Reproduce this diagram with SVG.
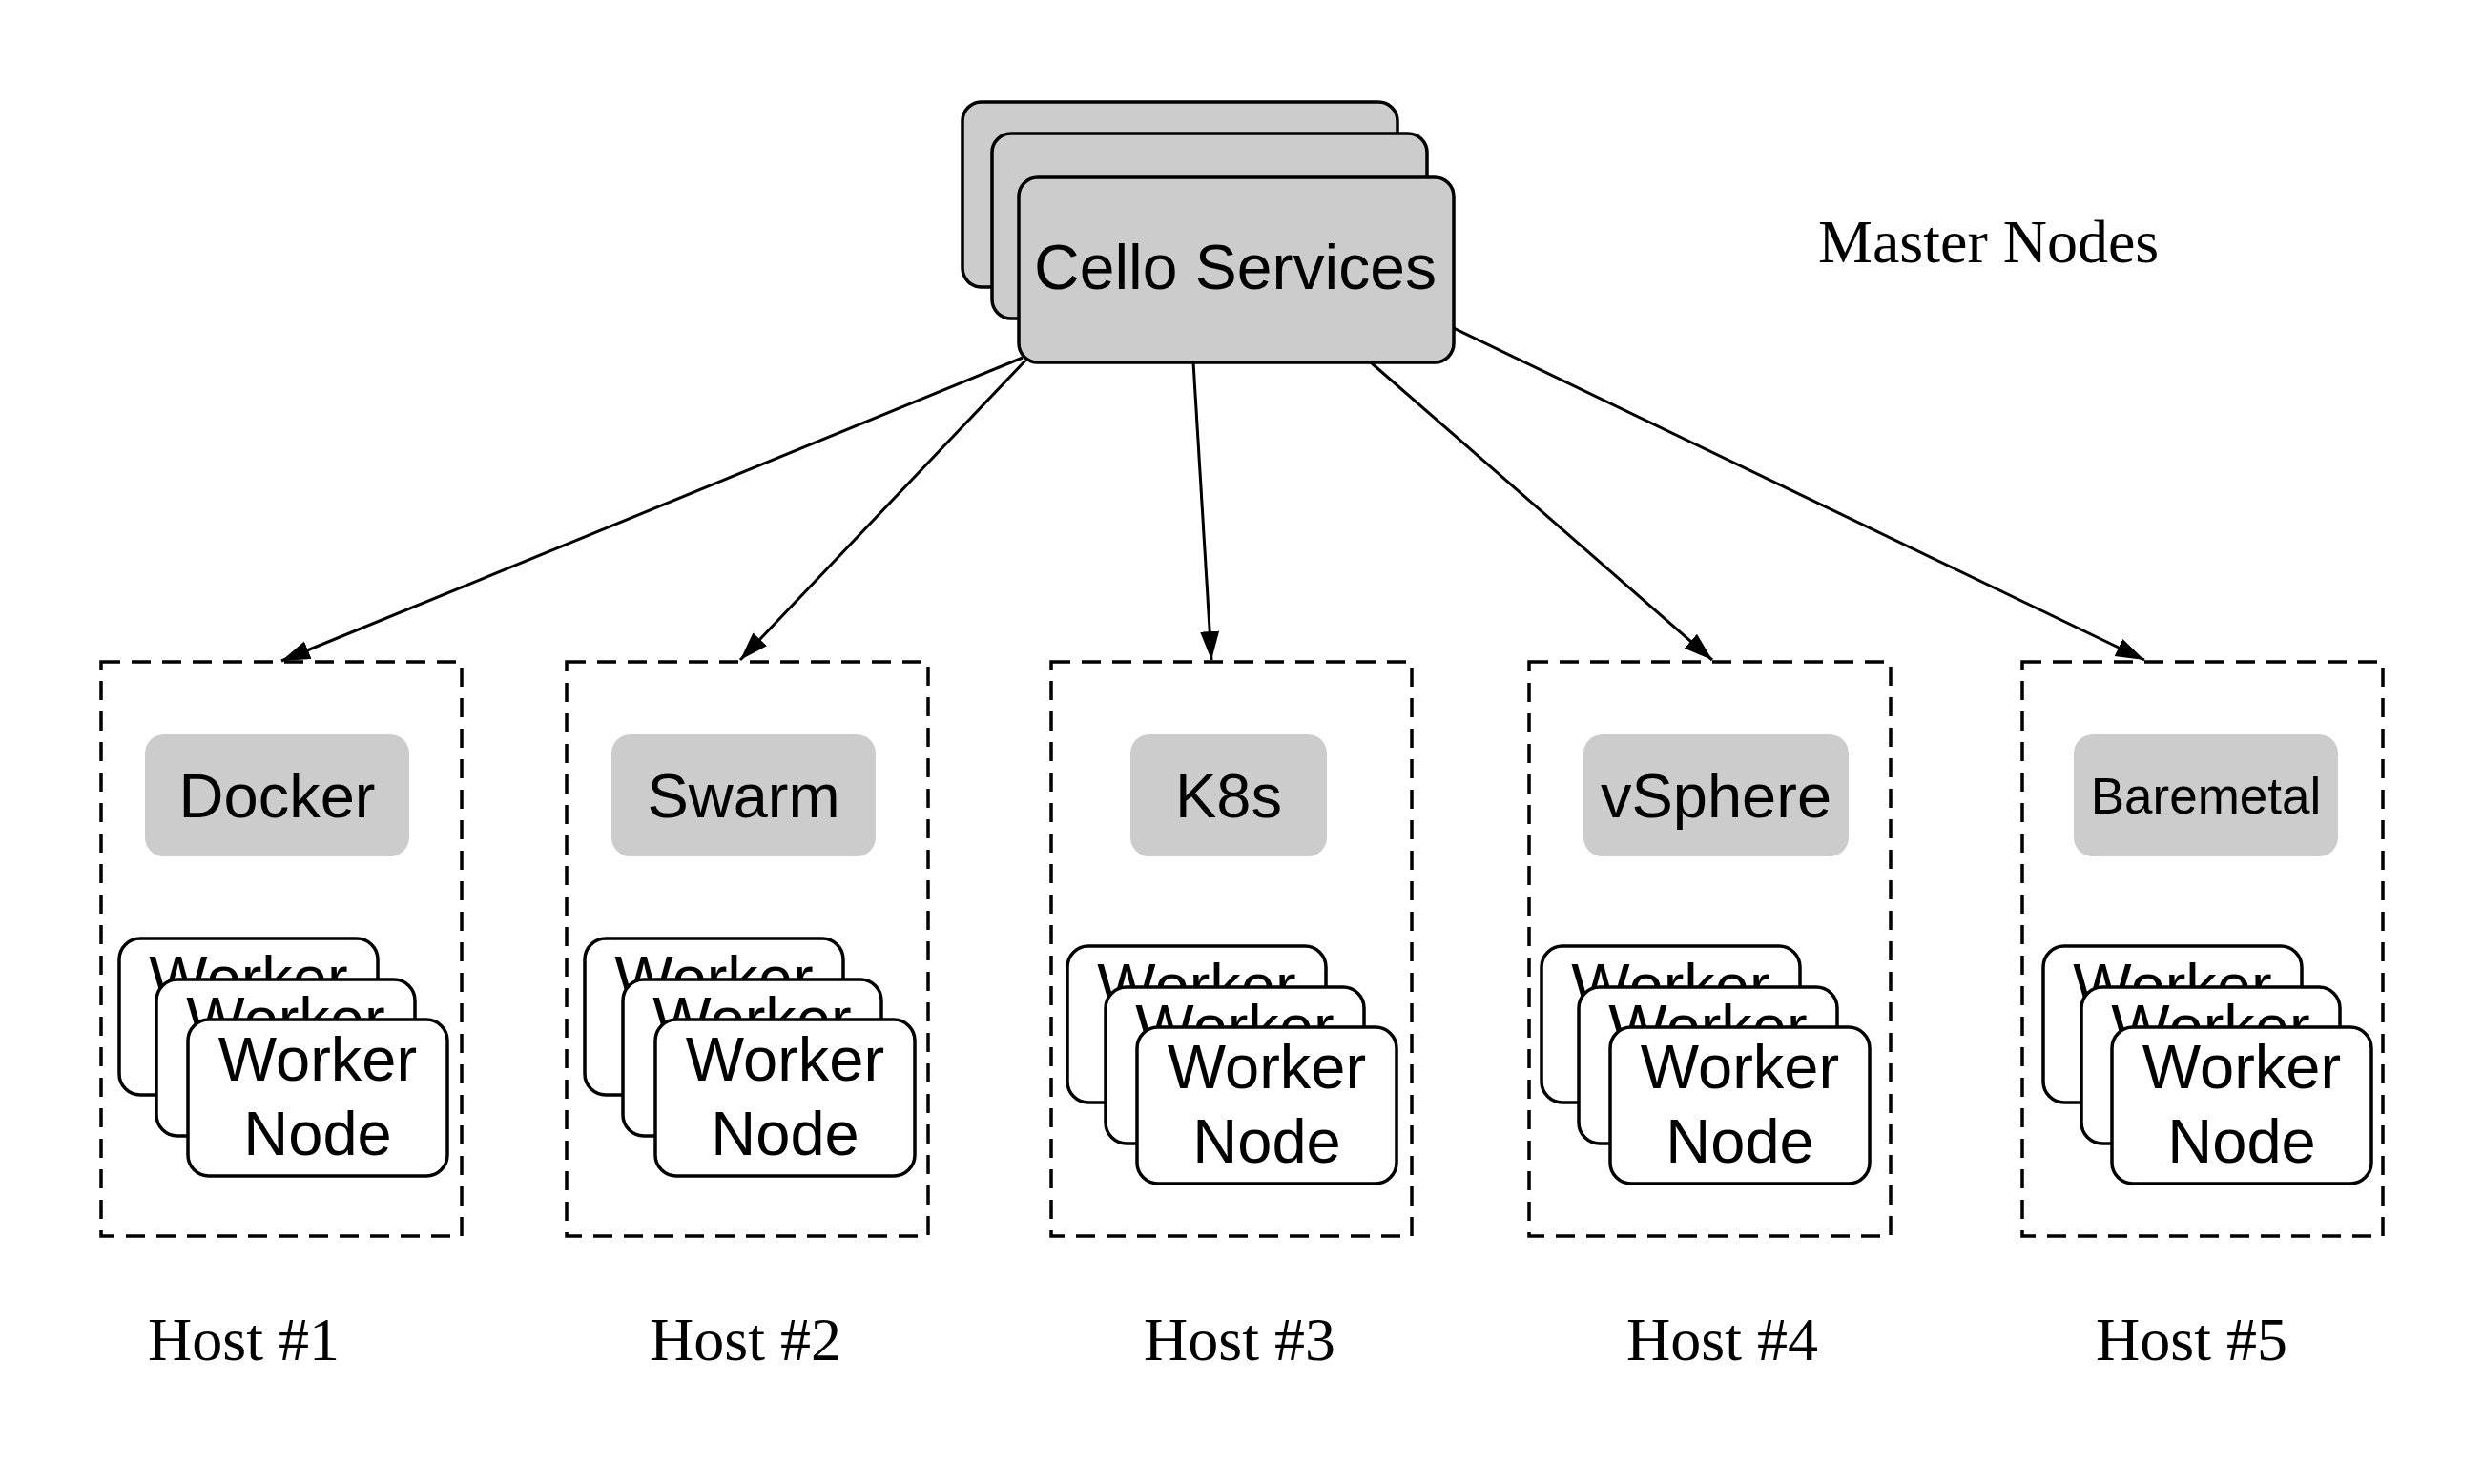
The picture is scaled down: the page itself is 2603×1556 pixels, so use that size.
<svg xmlns="http://www.w3.org/2000/svg" width="2603" height="1556" viewBox="0 0 2603 1556">
<style>
.bg{fill:#ffffff}
.master{fill:#cccccc;stroke:#000;stroke-width:3.5}
.host{fill:none;stroke:#000;stroke-width:3.5;stroke-dasharray:20 12}
.label{fill:#cccccc;stroke:none}
.worker{fill:#ffffff;stroke:#000;stroke-width:3.5}
.sans{font-family:"Liberation Sans",Arial,sans-serif;fill:#000;text-anchor:middle}
.serif{font-family:"Liberation Serif","Times New Roman",serif;fill:#000}
.edge{fill:none;stroke:#000;stroke-width:3;marker-end:url(#arrow)}
</style>
<defs>
<marker id="arrow" markerUnits="userSpaceOnUse" markerWidth="32" markerHeight="22" refX="30" refY="10" orient="auto">
<path d="M0,0 L30,10 L0,20 Z" fill="#000"/>
</marker>
</defs>
<rect class="bg" x="0" y="0" width="2603" height="1556"/>

<g id="master">
<rect class="master" x="1009" y="107" width="456" height="194" rx="20"/>
<rect class="master" x="1040" y="140" width="456" height="194" rx="20"/>
<rect class="master" x="1068" y="186" width="456" height="194" rx="20"/>
<text class="sans" x="1295" y="303" font-size="66">Cello Services</text>
</g>
<text id="master-label" class="serif" x="1906" y="275" font-size="64">Master Nodes</text>

<g id="host1">
<rect class="host" x="106" y="694" width="378" height="602"/>
<rect class="label" x="152" y="770" width="277" height="128" rx="20"/>
<text class="sans" x="290.5" y="857" font-size="65">Docker</text>
<rect class="worker" x="125" y="984" width="271" height="164" rx="22"/>
<text class="sans" x="260.5" y="1048" font-size="65">Worker</text>
<rect class="worker" x="164" y="1027" width="271" height="164" rx="22"/>
<text class="sans" x="299.5" y="1091" font-size="65">Worker</text>
<rect class="worker" x="197" y="1069" width="272" height="164" rx="22"/>
<text class="sans" x="333" y="1133" font-size="65">Worker</text>
<text class="sans" x="333" y="1211" font-size="65">Node</text>
</g>

<g id="host2">
<rect class="host" x="594" y="694" width="379" height="602"/>
<rect class="label" x="641" y="770" width="277" height="128" rx="20"/>
<text class="sans" x="779.5" y="857" font-size="65">Swarm</text>
<rect class="worker" x="613" y="984" width="271" height="164" rx="22"/>
<text class="sans" x="748.5" y="1048" font-size="65">Worker</text>
<rect class="worker" x="653" y="1027" width="271" height="164" rx="22"/>
<text class="sans" x="788.5" y="1091" font-size="65">Worker</text>
<rect class="worker" x="687" y="1069" width="272" height="164" rx="22"/>
<text class="sans" x="823" y="1133" font-size="65">Worker</text>
<text class="sans" x="823" y="1211" font-size="65">Node</text>
</g>

<g id="host3">
<rect class="host" x="1102" y="694" width="378" height="602"/>
<rect class="label" x="1185" y="770" width="206" height="128" rx="20"/>
<text class="sans" x="1288" y="857" font-size="65">K8s</text>
<rect class="worker" x="1119" y="992" width="271" height="164" rx="22"/>
<text class="sans" x="1254.5" y="1056" font-size="65">Worker</text>
<rect class="worker" x="1159" y="1035" width="271" height="164" rx="22"/>
<text class="sans" x="1294.5" y="1099" font-size="65">Worker</text>
<rect class="worker" x="1192" y="1077" width="272" height="164" rx="22"/>
<text class="sans" x="1328" y="1141" font-size="65">Worker</text>
<text class="sans" x="1328" y="1219" font-size="65">Node</text>
</g>

<g id="host4">
<rect class="host" x="1603" y="694" width="379" height="602"/>
<rect class="label" x="1660" y="770" width="278" height="128" rx="20"/>
<text class="sans" x="1799" y="857" font-size="65">vSphere</text>
<rect class="worker" x="1616" y="992" width="271" height="164" rx="22"/>
<text class="sans" x="1751.5" y="1056" font-size="65">Worker</text>
<rect class="worker" x="1655" y="1035" width="271" height="164" rx="22"/>
<text class="sans" x="1790.5" y="1099" font-size="65">Worker</text>
<rect class="worker" x="1688" y="1077" width="272" height="164" rx="22"/>
<text class="sans" x="1824" y="1141" font-size="65">Worker</text>
<text class="sans" x="1824" y="1219" font-size="65">Node</text>
</g>

<g id="host5">
<rect class="host" x="2120" y="694" width="378" height="602"/>
<rect class="label" x="2174" y="770" width="277" height="128" rx="20"/>
<text class="sans" x="2312.5" y="853" font-size="53">Baremetal</text>
<rect class="worker" x="2142" y="992" width="271" height="164" rx="22"/>
<text class="sans" x="2277.5" y="1056" font-size="65">Worker</text>
<rect class="worker" x="2182" y="1035" width="271" height="164" rx="22"/>
<text class="sans" x="2317.5" y="1099" font-size="65">Worker</text>
<rect class="worker" x="2214" y="1077" width="272" height="164" rx="22"/>
<text class="sans" x="2350" y="1141" font-size="65">Worker</text>
<text class="sans" x="2350" y="1219" font-size="65">Node</text>
</g>

<g id="host-labels" class="serif" font-size="64">
<text x="155" y="1426">Host #1</text>
<text x="681" y="1426">Host #2</text>
<text x="1199" y="1426">Host #3</text>
<text x="1705" y="1426">Host #4</text>
<text x="2197" y="1426">Host #5</text>
</g>

<g id="connectors">
<line class="edge" x1="1072" y1="375" x2="295" y2="693"/>
<line class="edge" x1="1075" y1="378" x2="776" y2="692"/>
<line class="edge" x1="1251" y1="380" x2="1270" y2="692"/>
<line class="edge" x1="1437" y1="380" x2="1795" y2="692"/>
<line class="edge" x1="1524" y1="344" x2="2248" y2="692"/>
</g>
</svg>
